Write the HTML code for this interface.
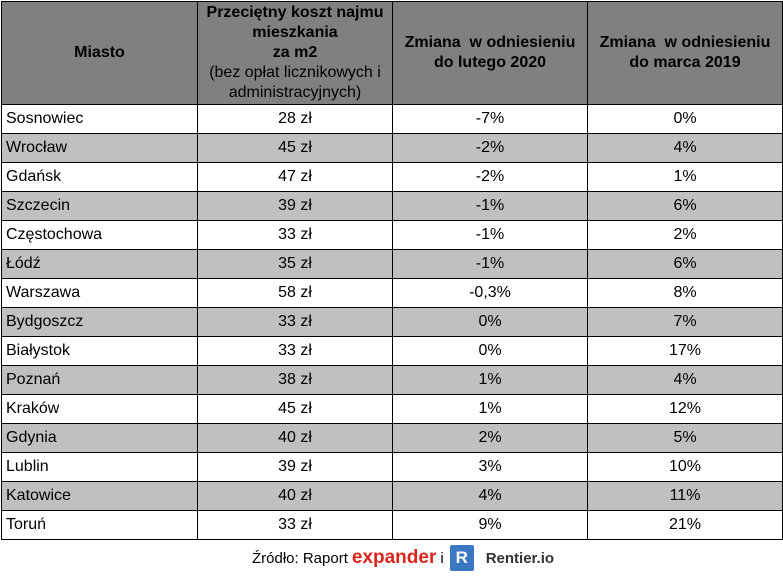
<!DOCTYPE html>
<html><head><meta charset="utf-8"><style>
body{margin:0;width:783px;height:580px;background:#fff;font-family:"Liberation Sans",Arial,sans-serif;position:relative;overflow:hidden}
table{position:absolute;left:1px;top:1px;border-collapse:collapse;table-layout:fixed}
td,th{border:1px solid #000;padding:0;font-size:16px;color:#000}
th{background:#808080;height:102px;font-weight:bold;text-align:center;line-height:20px;font-size:16px}
th .n{font-weight:normal}
td{height:28px;text-align:center}
td.c{text-align:left;padding-left:4px}
tr.g td{background:#c0c0c0}
.foot{position:absolute;top:544px;left:252px;height:28px;display:flex;align-items:center;font-size:15px}
.ex{color:#d9261c;font-weight:bold;font-size:19px;margin:0 4px 0 4px}
.R{display:inline-block;width:24px;height:26px;background:#3a78c2;color:#fff;font-weight:bold;text-align:center;line-height:26px;font-size:17px;margin:0 12px 0 6px;border-radius:2px}
</style></head><body>
<table>
<colgroup><col style="width:196px"><col style="width:195px"><col style="width:195px"><col style="width:195px"></colgroup>
<tr>
<th>Miasto</th>
<th>Przeciętny koszt najmu<br>mieszkania<br>za m2<br><span class="n">(bez opłat licznikowych i<br>administracyjnych)</span></th>
<th>Zmiana&nbsp; w odniesieniu<br>do lutego 2020</th>
<th>Zmiana&nbsp; w odniesieniu<br>do marca 2019</th>
</tr>
<tbody id="tb"></tbody>
</table>
<div class="foot">Źródło: Raport <span class="ex">expander</span> i <span class="R">R</span><span style="font-weight:bold;color:#333">Rentier.io</span></div>
<script>
const cities=["Sosnowiec","Wrocław","Gdańsk","Szczecin","Częstochowa","Łódź","Warszawa","Bydgoszcz","Białystok","Poznań","Kraków","Gdynia","Lublin","Katowice","Toruń"];
const costs=["28 zł","45 zł","47 zł","39 zł","33 zł","35 zł","58 zł","33 zł","33 zł","38 zł","45 zł","40 zł","39 zł","40 zł","33 zł"];
const chg2020=["-7%","-2%","-2%","-1%","-1%","-1%","-0,3%","0%","0%","1%","1%","2%","3%","4%","9%"];
const chg2019=["0%","4%","1%","6%","2%","6%","8%","7%","17%","4%","12%","5%","10%","11%","21%"];
const tb=document.getElementById('tb');
cities.forEach((c,i)=>{
const tr=document.createElement('tr');


if(i%2)tr.className='g';
[c,costs[i],chg2020[i],chg2019[i]].forEach((v,j)=>{
const td=document.createElement('td');


if(j===0)td.className='c';
td.textContent=v;tr.appendChild(td);});
tb.appendChild(tr);});
</script>
</body></html>
